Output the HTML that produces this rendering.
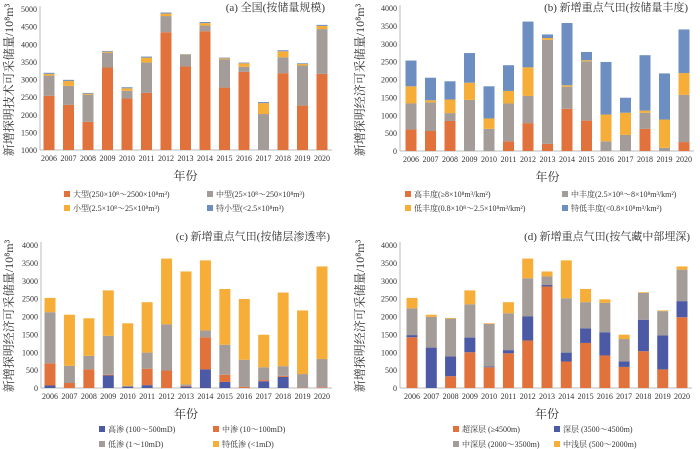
<!DOCTYPE html>
<html><head><meta charset="utf-8">
<style>
html,body{margin:0;padding:0;background:#fff;}
svg{display:block;font-family:"Liberation Serif","Noto Serif CJK SC",serif;}
</style></head>
<body>
<svg id="chart" width="700" height="449" viewBox="0 0 700 449" xmlns="http://www.w3.org/2000/svg"></svg>
<script>
const years=["2006","2007","2008","2009","2010","2011","2012","2013","2014","2015","2016","2017","2018","2019","2020"];
// Panel a (segment values, 10^8 m3)
const aLarge=[2540,2280,1800,3340,2460,2620,4340,3370,4370,2770,3220,900,3180,2260,3160];
const aMid=[570,540,770,420,220,860,460,330,160,800,140,1120,450,1140,1270];
const aSmall=[50,140,30,30,70,140,70,10,70,30,100,310,170,40,90];
const aTiny=[30,30,20,20,30,30,30,10,30,20,20,30,30,20,30];
const aTicks=[1000,1500,2000,2500,3000,3500,4000,4500,5000];
// Panel b
const bHigh=[600,560,840,0,0,270,780,200,1180,850,0,0,620,0,250];
const bMid=[730,800,220,1430,620,1060,760,2910,620,1660,270,450,450,90,1320];
const bLow=[480,60,380,480,290,350,800,50,40,30,750,620,60,790,610];
const bVlow=[720,630,510,830,900,720,1280,100,1740,230,1470,420,1550,1290,1220];
// Panel c
const cHigh=[70,0,0,350,40,80,0,40,520,170,0,190,310,0,0];
const cMid=[620,140,520,20,10,460,490,20,900,200,30,30,30,10,20];
const cLow=[1430,480,380,1090,10,450,1290,40,190,840,760,360,270,380,790];
const cVlow=[400,1430,1050,1270,1750,1410,1840,3160,1960,1560,1700,910,2060,1780,2590];
// Panel d
const dUltra=[1420,0,330,1000,580,970,1330,2840,740,1260,910,590,1030,520,1980];
const dDeep=[60,1130,550,410,20,90,670,40,250,410,650,150,880,950,450];
const dMidDeep=[750,860,1060,930,1190,1030,1070,240,1520,730,820,630,750,680,880];
const dShallow=[290,60,20,390,20,310,550,140,1060,370,100,120,20,20,90];
const bTicks=[0,500,1000,1500,2000,2500,3000,3500,4000];

const OR="#E2723C",GR="#A39C98",YE="#F6AE38",LB="#6C8EC1",DB="#4C5AA6";
const svg=document.getElementById('chart');
const NS="http://www.w3.org/2000/svg";
function mk(tag,attrs,parent){const e=document.createElementNS(NS,tag);for(const k in attrs)e.setAttribute(k,attrs[k]);(parent||svg).appendChild(e);return e;}

function panel(p){
  const g=mk('g',{});
  
  
  const yS=v=>p.y0-(v-p.vmin)/(p.vmax-p.vmin)*(p.y0-p.y1);
  const xS=i=>p.x0+i*(p.x1-p.x0)/(years.length-1);
  const bw=11;
  const ax=mk('line',{x1:p.ax,y1:p.y1-3,x2:p.ax,y2:p.y0,stroke:"#bbb","stroke-width":1},g);
  
  const bx=mk('line',{x1:p.ax,y1:p.y0,x2:p.x1+10,y2:p.y0,stroke:"#bbb","stroke-width":1},g);
  
  p.ticks.forEach(t=>{
    const tx=mk('text',{x:p.ax-3,y:yS(t)+3,"font-size":8,"text-anchor":"end",fill:"#333"},g);
    tx.textContent=t;
    
  });
  years.forEach((yr,i)=>{
    const tx=mk('text',{x:xS(i),y:p.y0+11,"font-size":8,"text-anchor":"middle",fill:"#333"},g);
    tx.textContent=yr;
    
    let cum=0;
    p.series.forEach((s,si)=>{
      const v=s.data[i];
      let lo=Math.max(cum,p.vmin),hi=cum+v;cum=hi;
      if(hi<=lo)return;
      const r=mk('rect',{x:xS(i)-bw/2,y:yS(hi),width:bw,height:yS(lo)-yS(hi),fill:s.color},g);
      
      
    });
  });
  const tt=mk('text',{x:p.titleX,y:p.titleY,"font-size":11,"text-anchor":"end",fill:"#333"},g);
  tt.textContent=p.title;
  const yt=mk('text',{x:0,y:0,"font-size":12,"text-anchor":"middle",fill:"#333",transform:`translate(${p.ytX},${p.ytY}) rotate(-90)`},g);
  yt.textContent=p.ytitle;
  const xt=mk('text',{x:(p.x0+p.x1)/2,y:p.y0+30,"font-size":12,"text-anchor":"middle",fill:"#333"},g);
  xt.textContent="年份";
  p.series.forEach((s,si)=>{
    const lx=si%2===0?p.lx[0]:p.lx[1],ly=p.ly[Math.floor(si/2)];
    const m=mk('rect',{x:lx,y:ly-6,width:6,height:6,fill:s.color},g);
    
    const lt=mk('text',{x:lx+9,y:ly,"font-size":8,fill:"#333"},g);
    lt.textContent=s.label;
  });
}
panel({name:'panel-a',ax:40,x0:49,x1:322,y0:150,y1:9,vmin:1000,vmax:5000,ticks:aTicks,
  title:"(a) 全国(按储量规模)",titleX:325,titleY:11,ytitle:"新增探明技术可采储量/10⁸m³",ytX:13,ytY:80,
  lx:[64,207],ly:[197,211],
  series:[{key:'large',data:aLarge,color:OR,label:"大型(250×10⁸～2500×10⁸m³)"},
          {key:'mid',data:aMid,color:GR,label:"中型(25×10⁸～250×10⁸m³)"},
          {key:'small',data:aSmall,color:YE,label:"小型(2.5×10⁸～25×10⁸m³)"},
          {key:'tiny',data:aTiny,color:LB,label:"特小型(<2.5×10⁸m³)"}]});
panel({name:'panel-b',ax:400,x0:411,x1:684,y0:151,y1:8,vmin:0,vmax:4000,ticks:bTicks,
  title:"(b) 新增重点气田(按储量丰度)",titleX:688,titleY:11,ytitle:"新增探明经济可采储量/10⁸m³",ytX:364,ytY:80,
  lx:[405,562],ly:[197,211],
  series:[{key:'high',data:bHigh,color:OR,label:"高丰度(≥8×10⁸m³/km²)"},
          {key:'mid',data:bMid,color:GR,label:"中丰度(2.5×10⁸～8×10⁸m³/km²)"},
          {key:'low',data:bLow,color:YE,label:"低丰度(0.8×10⁸～2.5×10⁸m³/km²)"},
          {key:'vlow',data:bVlow,color:LB,label:"特低丰度(<0.8×10⁸m³/km²)"}]});
panel({name:'panel-c',ax:41,x0:50,x1:322,y0:388,y1:245,vmin:0,vmax:4000,ticks:bTicks,
  title:"(c) 新增重点气田(按储层渗透率)",titleX:330,titleY:240,ytitle:"新增探明经济可采储量/10⁸m³",ytX:13,ytY:316,
  lx:[99,213],ly:[432,447],
  series:[{key:'high',data:cHigh,color:DB,label:"高渗 (100～500mD)"},
          {key:'mid',data:cMid,color:OR,label:"中渗 (10～100mD)"},
          {key:'low',data:cLow,color:GR,label:"低渗 (1～10mD)"},
          {key:'vlow',data:cVlow,color:YE,label:"特低渗 (<1mD)"}]});
panel({name:'panel-d',ax:400,x0:412,x1:682,y0:388,y1:245,vmin:0,vmax:4000,ticks:bTicks,
  title:"(d) 新增重点气田(按气藏中部埋深)",titleX:690,titleY:240,ytitle:"新增探明经济可采储量/10⁸m³",ytX:364,ytY:316,
  lx:[453,554],ly:[432,447],
  series:[{key:'ultra',data:dUltra,color:OR,label:"超深层 (≥4500m)"},
          {key:'deep',data:dDeep,color:DB,label:"深层 (3500～4500m)"},
          {key:'middeep',data:dMidDeep,color:GR,label:"中深层 (2000～3500m)"},
          {key:'shallow',data:dShallow,color:YE,label:"中浅层 (500～2000m)"}]});
</script>
</body></html>
